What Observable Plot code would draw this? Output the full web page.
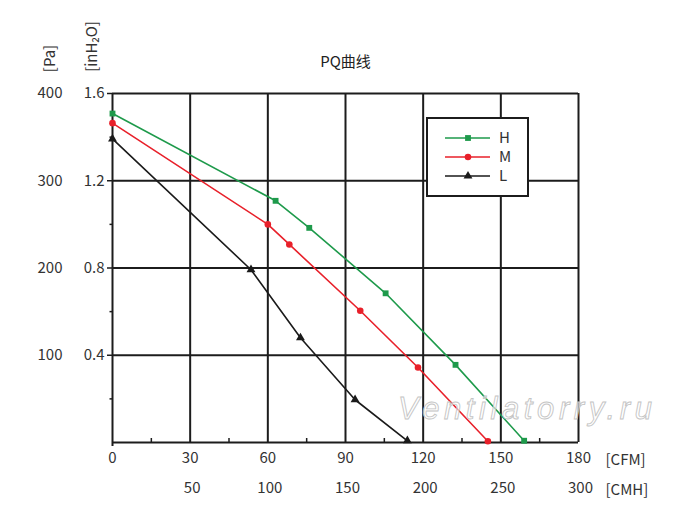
<!DOCTYPE html>
<html><head><meta charset="utf-8">
<script src="https://cdn.jsdelivr.net/npm/d3@7"></script>
<script src="https://cdn.jsdelivr.net/npm/@observablehq/plot@0.6"></script>
<style>body{margin:0;background:#fff} #chart{width:700px;height:527px}</style>
</head><body><div id="chart"></div>
<script>
// ---- data ----
const hCFM = [0, 63, 76, 105.5, 132.5, 159];
const hPa  = [377, 277, 246, 171, 89, 2];
const mCFM = [0, 60, 68.3, 95.7, 118, 145];
const mPa  = [366, 250, 227, 151, 86, 1.5];
const lCFM = [0, 53.5, 72.6, 93.7, 113.9];
const lPa  = [348, 198, 120, 49, 2];
const cfmTicks = [0, 30, 60, 90, 120, 150, 180];
const cmhLabels = ["", "50", "100", "150", "200", "250", "300"];
const paTicks = [100, 200, 300, 400];
const inH2OLabels = ["0.4", "0.8", "1.2", "1.6"];
const minorX = [15, 45, 75, 105, 135, 165];
const minorY = [50, 150, 250, 350];
const seriesNames = ["H", "M", "L"];
const seriesColors = ["#1e9a4b", "#e8202a", "#1a1a1a"];
const seriesSymbols = ["square", "circle", "triangle"];
const titleText = "PQ曲线";
const watermark = "Ventilatorry.ru";

const rows = [];
[[hCFM, hPa], [mCFM, mPa], [lCFM, lPa]].forEach(([xs, ys], k) =>
  xs.forEach((x, i) => rows.push({series: seriesNames[k], cfm: x, pa: ys[i]})));

const font = '"Noto Sans CJK SC", "Noto Sans", sans-serif';
const gridColor = "#1c1c1c";
const fs = 15;

const plot = Plot.plot({
  width: 700, height: 527,
  marginLeft: 112, marginRight: 122, marginTop: 93, marginBottom: 85,
  style: {fontFamily: font, fontSize: "15px", color: "#333", background: "white", overflow: "visible"},
  x: {domain: [0, 180], axis: null, label: null},
  y: {domain: [0, 400], axis: null, label: null},
  color: {domain: seriesNames, range: seriesColors},
  symbol: {domain: seriesNames, range: seriesSymbols},
  marks: [
    Plot.ruleY([0, ...paTicks], {stroke: gridColor, strokeWidth: 2}),
    Plot.ruleX(cfmTicks.slice(1), {stroke: gridColor, strokeWidth: 2}),
    Plot.ruleX([cfmTicks[0]], {stroke: gridColor, strokeWidth: 2, insetBottom: -4}),
    Plot.axisY({ticks: paTicks, tickSize: 5, tickPadding: 3, strokeWidth: 1.5, stroke: gridColor, label: null,
      tickFormat: d => inH2OLabels[paTicks.indexOf(d)], fill: "#333", fontSize: fs}),
    Plot.axisY({ticks: paTicks, tickSize: 0, tickPadding: 50, label: null, tickFormat: d => String(d), fill: "#333", fontSize: fs}),
    Plot.axisY({ticks: minorY, tickSize: 2.5, label: null, tickFormat: () => "", strokeWidth: 1.5, stroke: gridColor}),
    Plot.axisX({ticks: minorX, tickSize: -4, tickPadding: 0, label: null, tickFormat: () => "", strokeWidth: 1.5, stroke: gridColor}),
    Plot.axisX({ticks: cfmTicks, tickSize: 0, tickPadding: 10, label: null, tickFormat: d => String(d), fill: "#333", fontSize: fs}),
    Plot.axisX({ticks: cfmTicks.slice(1), tickSize: 0, tickPadding: 40, label: null, dx: 2,
      tickFormat: d => cmhLabels[cfmTicks.indexOf(d)], fill: "#333", fontSize: fs}),
    Plot.text(["[CFM]"], {frameAnchor: "bottom-right", dx: 27, dy: 18, textAnchor: "start", lineAnchor: "middle", fill: "#333", fontSize: fs}),
    Plot.text(["[CMH]"], {frameAnchor: "bottom-right", dx: 27, dy: 48, textAnchor: "start", lineAnchor: "middle", fill: "#333", fontSize: fs}),
    Plot.text(["[Pa]"], {frameAnchor: "top-left", dx: -62, dy: -35, rotate: -90, textAnchor: "middle", lineAnchor: "middle", fill: "#333", fontSize: fs}),
    Plot.text(["[inH₂O]"], {frameAnchor: "top-left", dx: -20, dy: -47, rotate: -90, textAnchor: "middle", lineAnchor: "middle", fill: "#333", fontSize: fs}),
    Plot.text([titleText], {frameAnchor: "top", dy: -31, textAnchor: "middle", lineAnchor: "middle", fill: "#222", fontSize: fs}),
    Plot.line(rows, {x: "cfm", y: "pa", z: "series", stroke: "series", strokeWidth: 1.6}),
    Plot.dot(rows, {x: "cfm", y: "pa", fill: "series", symbol: "series", r: 3.3, stroke: "none"})
  ]
});

const svg = d3.select(plot);
// Legend box
const lg = svg.append("g").attr("transform", "translate(427,118)");
lg.append("rect").attr("width", 101).attr("height", 78).attr("fill", "white")
  .attr("stroke", gridColor).attr("stroke-width", 2);
seriesNames.forEach((name, i) => {
  const y = 20 + i * 19;
  const c = seriesColors[i];
  lg.append("line").attr("x1", 18).attr("x2", 63).attr("y1", y).attr("y2", y)
    .attr("stroke", c).attr("stroke-width", 1.6);
  lg.append("path").attr("transform", `translate(41,${y})`)
    .attr("d", d3.symbol(i === 0 ? d3.symbolSquare : i === 1 ? d3.symbolCircle : d3.symbolTriangle, 34)())
    .attr("fill", c);
  lg.append("text").attr("x", 72).attr("y", y).attr("dy", "0.35em").text(name)
    .attr("text-anchor", "start")
    .attr("fill", "#333").style("font-family", font).style("font-size", "15px");
});
// Watermark
svg.append("text").attr("x", 398).attr("y", 419).text(watermark)
  .attr("text-anchor", "start")
  .style("font-family", '"Liberation Sans", Arial, sans-serif').style("font-style", "italic")
  .style("font-size", "31px").style("letter-spacing", "4.6px")
  .attr("fill", "white").attr("fill-opacity", 0.6).attr("stroke", "#c4c4c4").attr("stroke-width", 0.9);

document.getElementById("chart").appendChild(plot);
</script>
</body></html>
